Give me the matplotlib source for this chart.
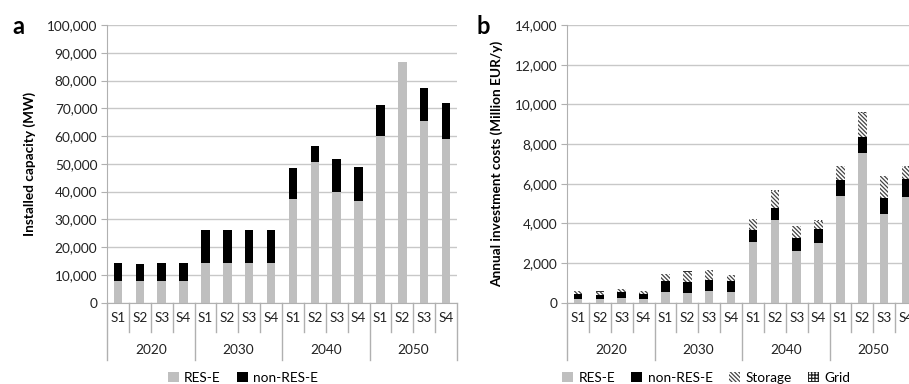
import numpy as np
import matplotlib
matplotlib.use("Agg")
import matplotlib.pyplot as plt
from matplotlib.patches import Patch
import matplotlib.transforms as mtransforms

plt.rcParams['font.family'] = ['Lato', 'DejaVu Sans']
plt.rcParams['hatch.linewidth'] = 0.9

years = ['2020', '2030', '2040', '2050']
scen = ['S1', 'S2', 'S3', 'S4']

# panel a: installed capacity (MW)
res_a = [7700, 7700, 7700, 7700, 14400, 14400, 14400, 14400,
         37200, 50600, 40000, 36700, 60000, 86800, 65500, 59100]
nonres_a = [6600, 6200, 6600, 6600, 11600, 11600, 11600, 11600,
            11400, 5900, 11900, 12300, 11200, 0, 11900, 12700]

# panel b: annual investment costs (Million EUR/y)
res_b = [180, 180, 250, 180, 520, 500, 590, 520,
         3050, 4170, 2620, 3030, 5380, 7560, 4450, 5340]
nonres_b = [260, 220, 270, 260, 570, 540, 550, 560,
            610, 590, 620, 670, 800, 780, 810, 900]
storage_b = [160, 150, 150, 160, 360, 520, 490, 320,
             540, 890, 630, 430, 710, 1240, 1130, 620]
grid_b = [15] * 16

GRAY = '#bfbfbf'
LINE = '#b0b0b0'
W, H = 909, 384

fig = plt.figure(figsize=(W / 100, H / 100), dpi=100)
ax_a = fig.add_axes([107 / W, 1 - 302.7 / H, 350 / W, 277.7 / H])
ax_b = fig.add_axes([567 / W, 1 - 302.7 / H, 350 / W, 277.7 / H])


def style_axis(ax, ymax, step):
    x = np.arange(16)
    ax.set_xlim(-0.5, 15.5)
    ax.set_ylim(0, ymax)
    ax.set_yticks(np.arange(0, ymax + 1, step))
    ax.set_yticklabels([f'{v:,}' for v in np.arange(0, ymax + 1, step)])
    ax.yaxis.grid(True, color='#c8c8c8', linewidth=1)
    ax.set_axisbelow(True)
    for s in ['top', 'right']:
        ax.spines[s].set_visible(False)
    ax.spines['left'].set_color(LINE)
    ax.spines['bottom'].set_color(LINE)
    ax.tick_params(axis='y', length=4, color=LINE, labelsize=9.8, labelcolor='#222222', pad=3)
    ax.set_xticks(x)
    ax.set_xticklabels(scen * 4)
    ax.tick_params(axis='x', length=0, labelsize=9.8, labelcolor='#222222', pad=7)
    tr = mtransforms.blended_transform_factory(ax.transData, ax.transAxes)
    for i in range(17):
        b = i - 0.5
        low = -0.206 if i % 4 == 0 else -0.107
        ax.plot([b, b], [0, low], transform=tr, color=LINE, lw=1, clip_on=False)
    for g, yr in enumerate(years):
        ax.text(g * 4 + 1.5, -0.17, yr, transform=tr, ha='center', va='center',
                fontsize=9.8, color='#222222')


x = np.arange(16)
bw = 0.39

style_axis(ax_a, 100000, 10000)
ax_a.bar(x, res_a, bw, color=GRAY)
ax_a.bar(x, nonres_a, bw, bottom=res_a, color='black')
ax_a.set_ylabel('Installed capacity (MW)', fontsize=9.8, fontweight='bold', labelpad=8)

style_axis(ax_b, 14000, 2000)
b1 = np.array(res_b)
b2 = b1 + np.array(nonres_b)
b3 = b2 + np.array(storage_b)
ax_b.bar(x, res_b, bw, color=GRAY)
ax_b.bar(x, nonres_b, bw, bottom=b1, color='black')
ax_b.bar(x, storage_b, bw, bottom=b2, facecolor='white', edgecolor='#444444',
         hatch='\\\\\\\\\\\\\\\\', linewidth=0)
ax_b.bar(x, grid_b, bw, bottom=b3, facecolor='white', edgecolor='#333333',
         hatch='+++++', linewidth=0)
ax_b.set_ylabel('Annual investment costs (Million EUR/y)', fontsize=9.8,
                fontweight='bold', labelpad=8)

fig.text(12 / W, 1 - 27 / H, 'a', fontsize=17, fontweight='bold', va='center')
fig.text(477 / W, 1 - 27 / H, 'b', fontsize=17, fontweight='bold', va='center')

leg_kw = dict(frameon=False, ncol=4, fontsize=9.8, handlelength=0.8, handleheight=0.8,
              handletextpad=0.4, columnspacing=1.2, borderaxespad=0)
h_a = [Patch(facecolor=GRAY, label='RES-E'), Patch(facecolor='black', label='non-RES-E')]
fig.legend(handles=h_a, loc='center', bbox_to_anchor=(243 / W, 1 - 378 / H), **leg_kw)
h_b = [Patch(facecolor=GRAY, label='RES-E'),
       Patch(facecolor='black', label='non-RES-E'),
       Patch(facecolor='white', edgecolor='#444444', hatch='\\\\\\\\\\\\\\\\', linewidth=0, label='Storage'),
       Patch(facecolor='white', edgecolor='#222222', hatch='+++++', linewidth=0, label='Grid')]
fig.legend(handles=h_b, loc='center', bbox_to_anchor=(706 / W, 1 - 378 / H), **leg_kw)

fig.savefig('out.png', dpi=100)
